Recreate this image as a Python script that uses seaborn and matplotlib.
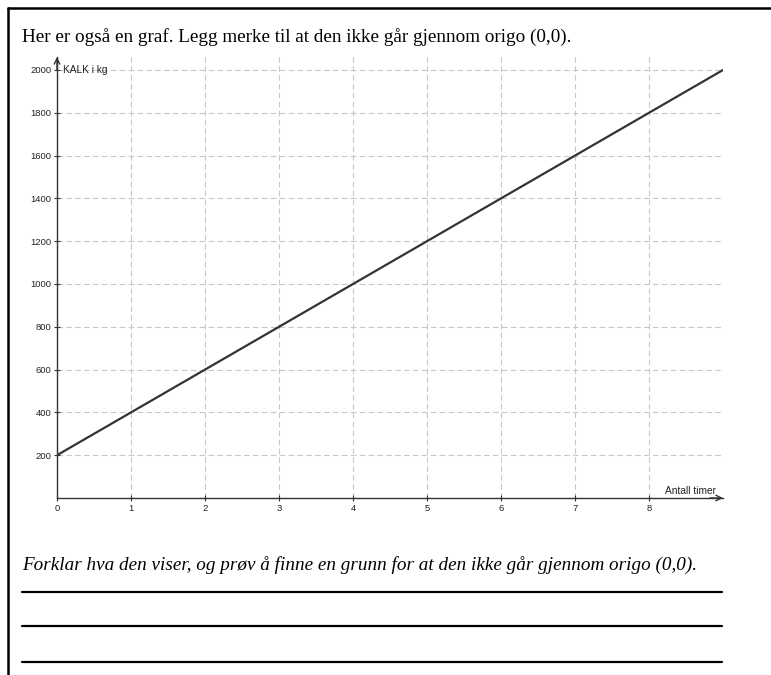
import matplotlib
matplotlib.use("Agg")
import matplotlib.pyplot as plt
import seaborn as sns
import pandas as pd
from matplotlib.lines import Line2D

sns.set_style("white")
plt.rcParams['font.family'] = ['Liberation Sans', 'DejaVu Sans']

# Data
hours = [0, 9]
kalk = [200, 2000]
x_ticks = [0, 1, 2, 3, 4, 5, 6, 7, 8]
y_ticks = [200, 400, 600, 800, 1000, 1200, 1400, 1600, 1800, 2000]
title_text = "Her er også en graf. Legg merke til at den ikke går gjennom origo (0,0)."
question_text = "Forklar hva den viser, og prøv å finne en grunn for at den ikke går gjennom origo (0,0)."
y_label = "KALK i kg"
x_label = "Antall timer"

W, H = 771, 675
fig = plt.figure(figsize=(W / 100, H / 100), dpi=100)

def fx(px):
    return px / W

def fy(py):
    return 1 - py / H

# axes placement
x0, x1 = 57, 723
y0, y1 = 498, 57
ax = fig.add_axes([fx(x0), fy(y0), (x1 - x0) / W, (y0 - y1) / H])

df = pd.DataFrame({"timer": hours, "kalk": kalk})
sns.lineplot(data=df, x="timer", y="kalk", ax=ax, color="#333333", linewidth=1.6)

ax.set_xlim(0, 9)
ax.set_ylim(0, (y0 - y1) / ((y0 - 70) / 2000))
ax.set_xticks(x_ticks)
ax.set_yticks(y_ticks)
ax.set_xlabel("")
ax.set_ylabel("")
ax.grid(True, color="#c8c8c8", linestyle=(0, (5, 3)), linewidth=0.8)
for s in ["top", "right"]:
    ax.spines[s].set_visible(False)
for s in ["left", "bottom"]:
    ax.spines[s].set_color("#333333")
    ax.spines[s].set_linewidth(1.0)
ax.tick_params(axis="both", direction="inout", length=4, width=0.8, color="#333333",
               labelsize=6.8, labelcolor="#222222", pad=2, left=True, bottom=True)

# arrows on axes
ax.annotate("", xy=(1.0, 0), xytext=(0.98, 0), xycoords="axes fraction",
            arrowprops=dict(arrowstyle="->", color="#333333", lw=1.0, shrinkA=0, shrinkB=0),
            annotation_clip=False)
ax.annotate("", xy=(0, 1.0), xytext=(0, 0.97), xycoords="axes fraction",
            arrowprops=dict(arrowstyle="->", color="#333333", lw=1.0, shrinkA=0, shrinkB=0),
            annotation_clip=False)

fig.text(fx(63), fy(70), y_label, fontsize=7.3, color="#222222", va="center", ha="left")
fig.text(fx(716), fy(491), x_label, fontsize=7.3, color="#222222", va="center", ha="right")

# texts
fig.text(fx(22), fy(37), title_text, fontsize=13.8, family=["Liberation Serif"],
         va="center", ha="left", color="black")
fig.text(fx(22), fy(565), question_text, fontsize=13.8, family=["Liberation Serif"],
         style="italic", va="center", ha="left", color="black")

# answer lines
for yy in [592, 626, 662]:
    fig.add_artist(Line2D([fx(22), fx(722)], [fy(yy), fy(yy)], color="black", linewidth=1.6))

# page border
fig.add_artist(Line2D([fx(8), fx(771)], [fy(8), fy(8)], color="black", linewidth=1.8))
fig.add_artist(Line2D([fx(8), fx(8)], [fy(8), fy(675)], color="black", linewidth=1.8))

fig.savefig("out.png", dpi=100)
